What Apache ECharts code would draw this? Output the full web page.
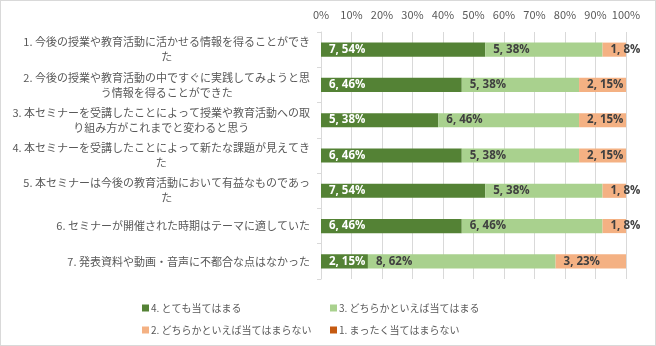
<!DOCTYPE html>
<html><head><meta charset="utf-8">
<script src="https://cdn.jsdelivr.net/npm/echarts@6/dist/echarts.min.js"></script>
<style>
html,body{margin:0;padding:0;background:#fff;}
#c{width:656px;height:346px;box-sizing:border-box;border:1px solid #d9d9d9;}
</style></head>
<body><div id="c"></div>
<script>
const categories = [
  '1. 今後の授業や教育活動に活かせる情報を得ることができ\nた',
  '2. 今後の授業や教育活動の中ですぐに実践してみようと思\nう情報を得ることができた',
  '3. 本セミナーを受講したことによって授業や教育活動への取\nり組み方がこれまでと変わると思う',
  '4. 本セミナーを受講したことによって新たな課題が見えてき\nた',
  '5. 本セミナーは今後の教育活動において有益なものであっ\nた',
  '6. セミナーが開催された時期はテーマに適していた',
  '7. 発表資料や動画・音声に不都合な点はなかった'
];
const seriesNames = ['4. とても当てはまる','3. どちらかといえば当てはまる','2. どちらかといえば当てはまらない','1. まったく当てはまらない'];
const count4 = [7,6,5,6,7,6,2];
const count3 = [5,5,6,5,5,6,8];
const count2 = [1,2,2,2,1,1,3];
const count1 = [0,0,0,0,0,0,0];
const pctLabels = ['0%','10%','20%','30%','40%','50%','60%','70%','80%','90%','100%'];
const colors = ['#548235','#A9D18E','#F4B183','#C55A11'];

const counts = [count4,count3,count2,count1];
const totals = categories.map((_,i)=>counts.reduce((s,a)=>s+a[i],0));
const font = '"Noto Sans CJK JP", "Noto Sans", sans-serif';

const series = counts.map((arr,k)=>({
  name: seriesNames[k],
  type: 'bar',
  stack: 'all',
  barCategoryGap: '60%',
  itemStyle: {color: colors[k]},
  data: arr.map((v,i)=>({value: v/totals[i]*100, cnt: v})),
  label: {
    show: true,
    position: 'insideLeft',
    distance: 8,
    fontFamily: '"Open Sans", "Liberation Sans", sans-serif',
    fontSize: 11.5,
    fontWeight: 'bold',
    color: k===0 ? '#ffffff' : '#404040',
    formatter: p => p.data.cnt === 0 ? '' : p.data.cnt + ', ' + Math.round(p.value) + '%'
  },
  labelLayout: {hideOverlap: false}
}));

const chart = echarts.init(document.getElementById('c'), null, {renderer:'canvas'});
chart.setOption({
  animation: false,
  grid: {left: 320, right: 29, top: 31, bottom: 66, containLabel: false},
  xAxis: {
    type: 'value', position: 'top', min: 0, max: 100, interval: 10,
    axisLine: {show: false}, axisTick: {show: false},
    splitLine: {show: true, lineStyle: {color: '#d9d9d9', width: 1}},
    axisLabel: {
      margin: 12, color: '#595959', fontSize: 11, fontFamily: font,
      formatter: v => pctLabels[Math.round(v/10)]
    }
  },
  yAxis: {
    type: 'category', inverse: true, data: categories,
    axisLine: {show: true, lineStyle: {color: '#d9d9d9'}},
    axisTick: {show: true, length: 4, lineStyle: {color: '#d9d9d9'}},
    axisLabel: {
      margin: 11, color: '#595959', fontSize: 11, fontFamily: font, align: 'right',
      lineHeight: 15,
      formatter: v => v.split('\n').map(s => '{a|' + s + '}').join('\n'),
      rich: {a: {align: 'center', color: '#595959', fontSize: 11, fontFamily: font, lineHeight: 15}}
    }
  },
  legend: [
    {
      data: [seriesNames[0], seriesNames[2]], orient: 'vertical', left: 136, top: 297,
      itemWidth: 7, itemHeight: 7, itemGap: 12, icon: 'rect',
      textStyle: {color: '#595959', fontSize: 10, fontFamily: font, padding: [0,0,0,-3]}
    },
    {
      data: [seriesNames[1], seriesNames[3]], orient: 'vertical', left: 324, top: 297,
      itemWidth: 7, itemHeight: 7, itemGap: 12, icon: 'rect',
      textStyle: {color: '#595959', fontSize: 10, fontFamily: font, padding: [0,0,0,-3]}
    }
  ],
  series: series
});
</script></body></html>
